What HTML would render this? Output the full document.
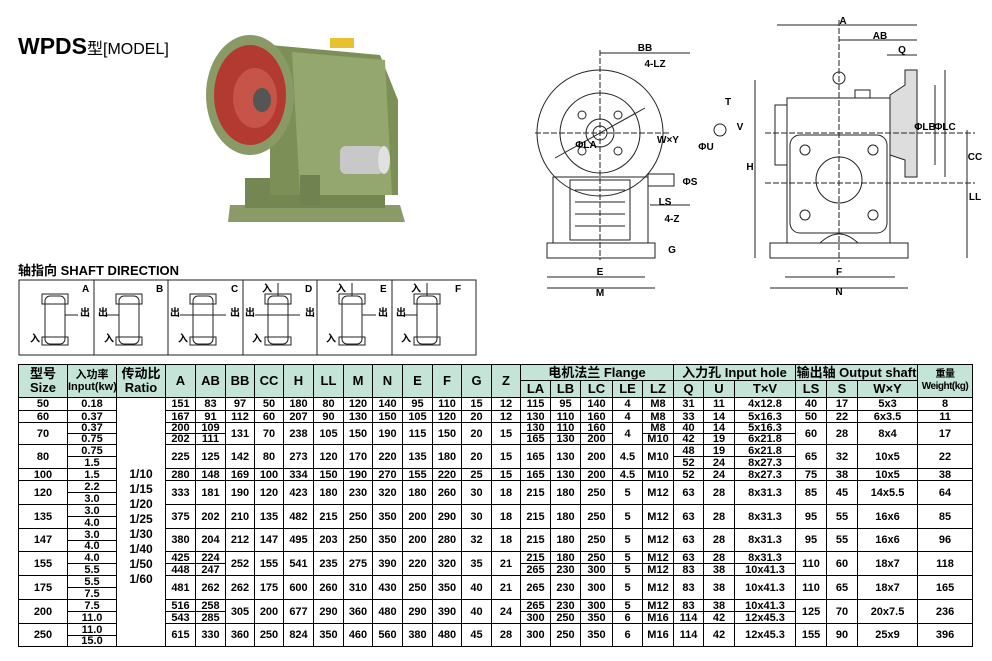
<!DOCTYPE html>
<html><head><meta charset="utf-8">
<style>
*{margin:0;padding:0;box-sizing:border-box}
body{width:992px;height:661px;background:#fff;position:relative;overflow:hidden;font-family:"Liberation Sans","Noto Sans CJK SC",sans-serif;color:#000}
.abs{position:absolute}
table{position:absolute;left:18px;top:364px;border-collapse:collapse;table-layout:fixed;width:954px}
td{border:1px solid #000;text-align:center;vertical-align:middle;font-size:11px;font-weight:bold;line-height:10px;padding:0;overflow:hidden;white-space:nowrap}
td.h{background:#c4e4d8;font-size:13px;line-height:14px}
td.hs{background:#c4e4d8;font-size:11px;line-height:12px}
td.hw{background:#c4e4d8;font-size:10px;line-height:12px;letter-spacing:-0.5px}
td.rt{font-size:12px;line-height:15px;vertical-align:middle;padding-top:10px}
</style></head><body>
<div class="abs" style="left:18px;top:33px;font-weight:bold;font-size:23px">WPDS<span style="font-size:16px;font-weight:normal">型[MODEL]</span></div>

<svg class="abs" style="left:0;top:0" width="992" height="360" viewBox="0 0 992 360">
<g>
<polygon points="230,205 400,205 405,222 228,222" fill="#8a9b68"/>
<rect x="245" y="178" width="140" height="30" fill="#748752"/>
<path d="M270,45 L380,55 L398,100 L398,195 L270,195 Z" fill="#7b8f57"/>
<path d="M292,52 L385,60 L392,195 L300,195 Z" fill="#93a76e"/>
<rect x="330" y="38" width="24" height="10" fill="#e8c030"/>
<ellipse cx="250" cy="95" rx="44" ry="60" fill="#8a9a66"/>
<ellipse cx="250" cy="95" rx="36" ry="50" fill="#b23a30"/>
<ellipse cx="255" cy="98" rx="22" ry="30" fill="#c75448"/>
<ellipse cx="262" cy="100" rx="9" ry="12" fill="#555"/>
<rect x="340" y="146" width="44" height="28" rx="6" fill="#c8c8c8"/>
<ellipse cx="384" cy="160" rx="6" ry="14" fill="#e0e0e0"/>
<rect x="300" y="175" width="20" height="30" fill="#6f8250"/>
</g>
<g fill="none" stroke="#222" stroke-width="1">
<circle cx="600" cy="133" r="63"/>
<circle cx="600" cy="133" r="40"/>
<circle cx="600" cy="133" r="14"/>
<circle cx="600" cy="133" r="7"/>
<circle cx="582" cy="115" r="4"/><circle cx="618" cy="115" r="4"/><circle cx="582" cy="151" r="4"/><circle cx="618" cy="151" r="4"/>
<rect x="553" y="177" width="95" height="66"/>
<rect x="570" y="180" width="60" height="60"/>
<line x1="575" y1="190" x2="625" y2="190"/><line x1="575" y1="202" x2="625" y2="202"/><line x1="575" y1="214" x2="625" y2="214"/><line x1="575" y1="226" x2="625" y2="226"/>
<rect x="547" y="243" width="108" height="15"/>
<rect x="648" y="174" width="26" height="12"/>
<line x1="535" y1="133" x2="670" y2="133" stroke-dasharray="6,2"/>
<line x1="600" y1="50" x2="600" y2="260" stroke-dasharray="6,2"/>
<line x1="547" y1="277" x2="645" y2="277"/><line x1="547" y1="288" x2="655" y2="288"/>
<line x1="600" y1="53" x2="690" y2="53"/>
<line x1="650" y1="205" x2="690" y2="205"/>
<line x1="555" y1="158" x2="645" y2="108"/>
<circle cx="720" cy="130" r="6"/>
<rect x="787" y="98" width="103" height="145"/>
<rect x="790" y="135" width="97" height="98" rx="10"/>
<circle cx="839" cy="180" r="23"/>
<circle cx="805" cy="150" r="5"/><circle cx="873" cy="150" r="5"/><circle cx="805" cy="215" r="5"/><circle cx="873" cy="215" r="5"/>
<rect x="775" y="105" width="12" height="60"/>
<path d="M890,95 L905,85 L905,70 L917,70 L917,177 L905,177 L905,160 L890,155 Z" fill="#ddd"/>
<rect x="770" y="243" width="138" height="15"/>
<circle cx="839" cy="78" r="6"/>
<rect x="855" y="90" width="15" height="8"/>
<path d="M820,243 Q839,225 858,243"/>
<line x1="777" y1="25" x2="917" y2="25"/><line x1="839" y1="40" x2="917" y2="40"/><line x1="887" y1="55" x2="917" y2="55"/>
<line x1="755" y1="80" x2="755" y2="258"/>
<line x1="967" y1="130" x2="967" y2="258"/>
<line x1="945" y1="70" x2="945" y2="177"/><line x1="935" y1="85" x2="935" y2="165"/>
<line x1="785" y1="277" x2="895" y2="277"/><line x1="770" y1="288" x2="908" y2="288"/>
<line x1="765" y1="133" x2="975" y2="133" stroke-dasharray="6,2"/>
<line x1="765" y1="183" x2="975" y2="183" stroke-dasharray="6,2"/>
<line x1="839" y1="20" x2="839" y2="262" stroke-dasharray="6,2"/>
</g>
<g font-family="Liberation Sans" font-weight="bold" font-size="10" text-anchor="middle">
<text x="645" y="51">BB</text><text x="655" y="67">4-LZ</text><text x="668" y="143">W×Y</text>
<text x="665" y="205">LS</text><text x="672" y="222">4-Z</text><text x="600" y="275">E</text><text x="600" y="296">M</text>
<text x="728" y="105">T</text><text x="843" y="24">A</text><text x="880" y="39">AB</text><text x="902" y="53">Q</text>
<text x="750" y="170">H</text><text x="975" y="200">LL</text><text x="975" y="160">CC</text><text x="945" y="130">ΦLC</text><text x="925" y="130">ΦLB</text>
<text x="839" y="275">F</text><text x="839" y="295">N</text>
<text x="586" y="148">ΦLA</text><text x="706" y="150">ΦU</text><text x="740" y="130">V</text><text x="690" y="185">ΦS</text><text x="672" y="253">G</text>
</g>
<text x="18" y="275" font-family="Liberation Sans,Noto Sans CJK SC,sans-serif" font-weight="bold" font-size="13">轴指向 SHAFT DIRECTION</text>
<g fill="none" stroke="#222" stroke-width="1">
<rect x="19" y="280" width="457" height="75"/>
<line x1="94" y1="280" x2="94" y2="355"/><line x1="168" y1="280" x2="168" y2="355"/><line x1="243" y1="280" x2="243" y2="355"/><line x1="317" y1="280" x2="317" y2="355"/><line x1="392" y1="280" x2="392" y2="355"/>
<rect x="45" y="296" width="20" height="48" rx="5"/><rect x="42" y="294" width="26" height="10"/><rect x="42" y="337" width="26" height="8"/>
<rect x="119" y="296" width="20" height="48" rx="5"/><rect x="116" y="294" width="26" height="10"/><rect x="116" y="337" width="26" height="8"/>
<rect x="193" y="296" width="20" height="48" rx="5"/><rect x="190" y="294" width="26" height="10"/><rect x="190" y="337" width="26" height="8"/>
<rect x="268" y="296" width="20" height="48" rx="5"/><rect x="265" y="294" width="26" height="10"/><rect x="265" y="337" width="26" height="8"/>
<rect x="342" y="296" width="20" height="48" rx="5"/><rect x="339" y="294" width="26" height="10"/><rect x="339" y="337" width="26" height="8"/>
<rect x="417" y="296" width="20" height="48" rx="5"/><rect x="414" y="294" width="26" height="10"/><rect x="414" y="337" width="26" height="8"/>
<line x1="65" y1="315" x2="78" y2="315"/><line x1="106" y1="315" x2="119" y2="315"/><line x1="180" y1="315" x2="226" y2="315"/><line x1="255" y1="315" x2="300" y2="315"/><line x1="362" y1="315" x2="376" y2="315"/><line x1="404" y1="315" x2="417" y2="315"/>
<line x1="278" y1="283" x2="278" y2="296"/><line x1="352" y1="283" x2="352" y2="296"/><line x1="427" y1="283" x2="427" y2="296"/>
</g>
<g font-family="Liberation Sans,Noto Sans CJK SC,sans-serif" font-weight="bold" font-size="10">
<text x="82" y="292">A</text><text x="156" y="292">B</text><text x="231" y="292">C</text><text x="305" y="292">D</text><text x="380" y="292">E</text><text x="455" y="292">F</text>
<text x="30" y="342">入</text><text x="104" y="342">入</text><text x="178" y="342">入</text><text x="252" y="342">入</text><text x="326" y="342">入</text><text x="401" y="342">入</text>
<text x="80" y="316">出</text><text x="98" y="316">出</text><text x="170" y="316">出</text><text x="230" y="316">出</text><text x="245" y="316">出</text><text x="305" y="316">出</text><text x="378" y="316">出</text><text x="396" y="316">出</text>
<text x="262" y="292">入</text><text x="336" y="292">入</text><text x="411" y="292">入</text>
</g>
</svg>

<table>
<colgroup><col style="width:49px"><col style="width:49px"><col style="width:49px"><col style="width:30px"><col style="width:30px"><col style="width:29px"><col style="width:29px"><col style="width:30px"><col style="width:30px"><col style="width:29px"><col style="width:30px"><col style="width:30px"><col style="width:29px"><col style="width:30px"><col style="width:29px"><col style="width:30px"><col style="width:30px"><col style="width:32px"><col style="width:30px"><col style="width:31px"><col style="width:30px"><col style="width:31px"><col style="width:61px"><col style="width:31px"><col style="width:31px"><col style="width:60px"><col style="width:55px"></colgroup>
<tr style="height:16px"><td class="h" rowspan="2">型号<br>Size</td><td class="hs" rowspan="2">入功率<br>Input(kw)</td><td class="h" rowspan="2">传动比<br>Ratio</td><td class="h" rowspan="2">A</td><td class="h" rowspan="2">AB</td><td class="h" rowspan="2">BB</td><td class="h" rowspan="2">CC</td><td class="h" rowspan="2">H</td><td class="h" rowspan="2">LL</td><td class="h" rowspan="2">M</td><td class="h" rowspan="2">N</td><td class="h" rowspan="2">E</td><td class="h" rowspan="2">F</td><td class="h" rowspan="2">G</td><td class="h" rowspan="2">Z</td><td class="h" colspan="5">电机法兰 Flange</td><td class="h" colspan="3">入力孔 Input hole</td><td class="h" colspan="3">输出轴 Output shaft</td><td class="hw" rowspan="2">重量<br>Weight(kg)</td></tr>
<tr style="height:17px"><td class="h">LA</td><td class="h">LB</td><td class="h">LC</td><td class="h">LE</td><td class="h">LZ</td><td class="h">Q</td><td class="h">U</td><td class="h">T×V</td><td class="h">LS</td><td class="h">S</td><td class="h">W×Y</td></tr>
<tr style="height:13px"><td>50</td><td>0.18</td><td class="rt" rowspan="21">1/10<br>1/15<br>1/20<br>1/25<br>1/30<br>1/40<br>1/50<br>1/60</td><td>151</td><td>83</td><td>97</td><td>50</td><td>180</td><td>80</td><td>120</td><td>140</td><td>95</td><td>110</td><td>15</td><td>12</td><td>115</td><td>95</td><td>140</td><td>4</td><td>M8</td><td>31</td><td>11</td><td>4x12.8</td><td>40</td><td>17</td><td>5x3</td><td>8</td></tr>
<tr style="height:12px"><td>60</td><td>0.37</td><td>167</td><td>91</td><td>112</td><td>60</td><td>207</td><td>90</td><td>130</td><td>150</td><td>105</td><td>120</td><td>20</td><td>12</td><td>130</td><td>110</td><td>160</td><td>4</td><td>M8</td><td>33</td><td>14</td><td>5x16.3</td><td>50</td><td>22</td><td>6x3.5</td><td>11</td></tr>
<tr style="height:11px"><td rowspan="2">70</td><td>0.37</td><td>200</td><td>109</td><td rowspan="2">131</td><td rowspan="2">70</td><td rowspan="2">238</td><td rowspan="2">105</td><td rowspan="2">150</td><td rowspan="2">190</td><td rowspan="2">115</td><td rowspan="2">150</td><td rowspan="2">20</td><td rowspan="2">15</td><td>130</td><td>110</td><td>160</td><td rowspan="2">4</td><td>M8</td><td>40</td><td>14</td><td>5x16.3</td><td rowspan="2">60</td><td rowspan="2">28</td><td rowspan="2">8x4</td><td rowspan="2">17</td></tr>
<tr style="height:11px"><td>0.75</td><td>202</td><td>111</td><td>165</td><td>130</td><td>200</td><td>M10</td><td>42</td><td>19</td><td>6x21.8</td></tr>
<tr style="height:12px"><td rowspan="2">80</td><td>0.75</td><td rowspan="2">225</td><td rowspan="2">125</td><td rowspan="2">142</td><td rowspan="2">80</td><td rowspan="2">273</td><td rowspan="2">120</td><td rowspan="2">170</td><td rowspan="2">220</td><td rowspan="2">135</td><td rowspan="2">180</td><td rowspan="2">20</td><td rowspan="2">15</td><td rowspan="2">165</td><td rowspan="2">130</td><td rowspan="2">200</td><td rowspan="2">4.5</td><td rowspan="2">M10</td><td>48</td><td>19</td><td>6x21.8</td><td rowspan="2">65</td><td rowspan="2">32</td><td rowspan="2">10x5</td><td rowspan="2">22</td></tr>
<tr style="height:12px"><td>1.5</td><td>52</td><td>24</td><td>8x27.3</td></tr>
<tr style="height:12px"><td>100</td><td>1.5</td><td>280</td><td>148</td><td>169</td><td>100</td><td>334</td><td>150</td><td>190</td><td>270</td><td>155</td><td>220</td><td>25</td><td>15</td><td>165</td><td>130</td><td>200</td><td>4.5</td><td>M10</td><td>52</td><td>24</td><td>8x27.3</td><td>75</td><td>38</td><td>10x5</td><td>38</td></tr>
<tr style="height:12px"><td rowspan="2">120</td><td>2.2</td><td rowspan="2">333</td><td rowspan="2">181</td><td rowspan="2">190</td><td rowspan="2">120</td><td rowspan="2">423</td><td rowspan="2">180</td><td rowspan="2">230</td><td rowspan="2">320</td><td rowspan="2">180</td><td rowspan="2">260</td><td rowspan="2">30</td><td rowspan="2">18</td><td rowspan="2">215</td><td rowspan="2">180</td><td rowspan="2">250</td><td rowspan="2">5</td><td rowspan="2">M12</td><td rowspan="2">63</td><td rowspan="2">28</td><td rowspan="2">8x31.3</td><td rowspan="2">85</td><td rowspan="2">45</td><td rowspan="2">14x5.5</td><td rowspan="2">64</td></tr>
<tr style="height:12px"><td>3.0</td></tr>
<tr style="height:12px"><td rowspan="2">135</td><td>3.0</td><td rowspan="2">375</td><td rowspan="2">202</td><td rowspan="2">210</td><td rowspan="2">135</td><td rowspan="2">482</td><td rowspan="2">215</td><td rowspan="2">250</td><td rowspan="2">350</td><td rowspan="2">200</td><td rowspan="2">290</td><td rowspan="2">30</td><td rowspan="2">18</td><td rowspan="2">215</td><td rowspan="2">180</td><td rowspan="2">250</td><td rowspan="2">5</td><td rowspan="2">M12</td><td rowspan="2">63</td><td rowspan="2">28</td><td rowspan="2">8x31.3</td><td rowspan="2">95</td><td rowspan="2">55</td><td rowspan="2">16x6</td><td rowspan="2">85</td></tr>
<tr style="height:12px"><td>4.0</td></tr>
<tr style="height:12px"><td rowspan="2">147</td><td>3.0</td><td rowspan="2">380</td><td rowspan="2">204</td><td rowspan="2">212</td><td rowspan="2">147</td><td rowspan="2">495</td><td rowspan="2">203</td><td rowspan="2">250</td><td rowspan="2">350</td><td rowspan="2">200</td><td rowspan="2">280</td><td rowspan="2">32</td><td rowspan="2">18</td><td rowspan="2">215</td><td rowspan="2">180</td><td rowspan="2">250</td><td rowspan="2">5</td><td rowspan="2">M12</td><td rowspan="2">63</td><td rowspan="2">28</td><td rowspan="2">8x31.3</td><td rowspan="2">95</td><td rowspan="2">55</td><td rowspan="2">16x6</td><td rowspan="2">96</td></tr>
<tr style="height:11px"><td>4.0</td></tr>
<tr style="height:12px"><td rowspan="2">155</td><td>4.0</td><td>425</td><td>224</td><td rowspan="2">252</td><td rowspan="2">155</td><td rowspan="2">541</td><td rowspan="2">235</td><td rowspan="2">275</td><td rowspan="2">390</td><td rowspan="2">220</td><td rowspan="2">320</td><td rowspan="2">35</td><td rowspan="2">21</td><td>215</td><td>180</td><td>250</td><td>5</td><td>M12</td><td>63</td><td>28</td><td>8x31.3</td><td rowspan="2">110</td><td rowspan="2">60</td><td rowspan="2">18x7</td><td rowspan="2">118</td></tr>
<tr style="height:12px"><td>5.5</td><td>448</td><td>247</td><td>265</td><td>230</td><td>300</td><td>5</td><td>M12</td><td>83</td><td>38</td><td>10x41.3</td></tr>
<tr style="height:12px"><td rowspan="2">175</td><td>5.5</td><td rowspan="2">481</td><td rowspan="2">262</td><td rowspan="2">262</td><td rowspan="2">175</td><td rowspan="2">600</td><td rowspan="2">260</td><td rowspan="2">310</td><td rowspan="2">430</td><td rowspan="2">250</td><td rowspan="2">350</td><td rowspan="2">40</td><td rowspan="2">21</td><td rowspan="2">265</td><td rowspan="2">230</td><td rowspan="2">300</td><td rowspan="2">5</td><td rowspan="2">M12</td><td rowspan="2">83</td><td rowspan="2">38</td><td rowspan="2">10x41.3</td><td rowspan="2">110</td><td rowspan="2">65</td><td rowspan="2">18x7</td><td rowspan="2">165</td></tr>
<tr style="height:12px"><td>7.5</td></tr>
<tr style="height:12px"><td rowspan="2">200</td><td>7.5</td><td>516</td><td>258</td><td rowspan="2">305</td><td rowspan="2">200</td><td rowspan="2">677</td><td rowspan="2">290</td><td rowspan="2">360</td><td rowspan="2">480</td><td rowspan="2">290</td><td rowspan="2">390</td><td rowspan="2">40</td><td rowspan="2">24</td><td>265</td><td>230</td><td>300</td><td>5</td><td>M12</td><td>83</td><td>38</td><td>10x41.3</td><td rowspan="2">125</td><td rowspan="2">70</td><td rowspan="2">20x7.5</td><td rowspan="2">236</td></tr>
<tr style="height:12px"><td>11.0</td><td>543</td><td>285</td><td>300</td><td>250</td><td>350</td><td>6</td><td>M16</td><td>114</td><td>42</td><td>12x45.3</td></tr>
<tr style="height:12px"><td rowspan="2">250</td><td>11.0</td><td rowspan="2">615</td><td rowspan="2">330</td><td rowspan="2">360</td><td rowspan="2">250</td><td rowspan="2">824</td><td rowspan="2">350</td><td rowspan="2">460</td><td rowspan="2">560</td><td rowspan="2">380</td><td rowspan="2">480</td><td rowspan="2">45</td><td rowspan="2">28</td><td rowspan="2">300</td><td rowspan="2">250</td><td rowspan="2">350</td><td rowspan="2">6</td><td rowspan="2">M16</td><td rowspan="2">114</td><td rowspan="2">42</td><td rowspan="2">12x45.3</td><td rowspan="2">155</td><td rowspan="2">90</td><td rowspan="2">25x9</td><td rowspan="2">396</td></tr>
<tr style="height:11px"><td>15.0</td></tr>
</table>
</body></html>
